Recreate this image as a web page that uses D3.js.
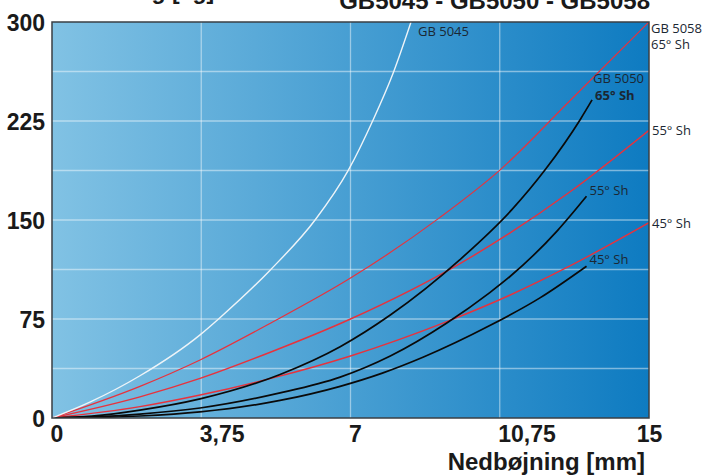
<!DOCTYPE html>
<html>
<head>
<meta charset="utf-8">
<script src="https://cdn.jsdelivr.net/npm/d3@7"></script>
<style>
  html, body { margin: 0; padding: 0; background: #fff; }
  svg { display: block; }
  .tick-lbl { font-family: "Liberation Sans", Arial, sans-serif; font-weight: bold; font-size: 23px; fill: #1a1a1a; }
  .ann { font-family: "Open Sans", "Noto Sans", sans-serif; font-size: 13px; fill: #1b2733; }
</style>
</head>
<body>
<svg id="chart" width="705" height="475"></svg>
<script>
// ---------- data ----------
const xTicks = [0, 3.75, 7.5, 11.25, 15];
const xTickLabels = ["0", "3,75", "7", "10,75", "15"];
const yTicks = [0, 75, 150, 225, 300];
const yGrid = [37.5, 75, 112.5, 150, 187.5, 225, 262.5];
const xTitle = "Nedbøjning [mm]";
const yTitle = "Belastning [kg]";
const chartTitle = "GB5045 - GB5050 - GB5058";

const gb5045X = [0, 0.95, 2.21, 3.72, 4.22, 5.48, 6.61, 7.45, 8.07, 8.58, 9.02];
const gb5045Y = [0, 12, 32, 63, 76, 112, 150, 188, 226, 262, 300];

const gb5058s65X = [0, 2.21, 3.72, 5.5, 7.5, 9.75, 11.26, 13.0, 15];
const gb5058s65Y = [0, 24, 44, 72, 106, 152, 188, 240, 300];
const gb5058s55X = [0, 2.21, 3.72, 5.5, 7.5, 10.25, 11.5, 13.0, 15];
const gb5058s55Y = [0, 16, 30, 50, 75, 117, 140, 171, 218];
const gb5058s45X = [0, 2.21, 3.72, 5.5, 7.5, 9.92, 11.5, 13.0, 15];
const gb5058s45Y = [0, 8.6, 17.4, 30, 47, 73, 93, 115, 148];

const gb5050s65X = [0, 1.0, 2.21, 3.72, 5.73, 7.24, 8.5, 10.25, 11.56, 12.39, 13.27, 13.57];
const gb5050s65Y = [0, 1.5, 6, 14.5, 33, 54, 78, 120, 158, 188, 226, 241];
const gb5050s55X = [0, 1.0, 2.21, 3.72, 5.73, 7.24, 8.5, 9.92, 11.0, 11.5, 12.7, 13.43];
const gb5050s55Y = [0, 0.8, 3, 7.6, 19, 31, 47, 72, 95, 107, 142, 168];
const gb5050s45X = [0, 1.0, 2.21, 3.72, 5.73, 7.24, 8.3, 9.32, 11.0, 12.26, 13.43];
const gb5050s45Y = [0, 0.3, 1.5, 4.6, 13.3, 24, 34, 46, 70, 91, 115];

// ---------- layout ----------
const W = 705, H = 475;
const m = { left: 52, right: 56, top: 22, bottom: 57 };
const iw = W - m.left - m.right, ih = H - m.top - m.bottom;

const svg = d3.select("#chart");
const x = d3.scaleLinear().domain([0, 15]).range([m.left, m.left + iw]);
const y = d3.scaleLinear().domain([0, 300]).range([m.top + ih, m.top]);

const defs = svg.append("defs");
const grad = defs.append("linearGradient").attr("id", "bg").attr("x1", 0).attr("x2", 1).attr("y1", 0).attr("y2", 0);
grad.append("stop").attr("offset", 0).attr("stop-color", "#81c2e4");
grad.append("stop").attr("offset", 1).attr("stop-color", "#0e7bc1");
defs.append("clipPath").attr("id", "clip").append("rect")
  .attr("x", m.left).attr("y", m.top).attr("width", iw).attr("height", ih);

svg.append("rect").attr("x", m.left).attr("y", m.top).attr("width", iw).attr("height", ih)
  .attr("fill", "url(#bg)");

// grid
svg.append("g").selectAll("line").data(yGrid).join("line")
  .attr("x1", m.left).attr("x2", m.left + iw)
  .attr("y1", d => y(d)).attr("y2", d => y(d))
  .attr("stroke", "rgba(255,255,255,0.45)").attr("stroke-width", 1.3);
svg.append("g").selectAll("line").data(xTicks.slice(1, -1)).join("line")
  .attr("y1", m.top).attr("y2", m.top + ih)
  .attr("x1", d => x(d)).attr("x2", d => x(d))
  .attr("stroke", "rgba(255,255,255,0.45)").attr("stroke-width", 1.3);

// curves
const line = d3.line().x(d => x(d[0])).y(d => y(d[1])).curve(d3.curveMonotoneX);
const series = [
  { xs: gb5058s65X, ys: gb5058s65Y, color: "#e8323c", w: 1.2 },
  { xs: gb5058s55X, ys: gb5058s55Y, color: "#e8323c", w: 1.4 },
  { xs: gb5058s45X, ys: gb5058s45Y, color: "#e8323c", w: 1.4 },
  { xs: gb5050s65X, ys: gb5050s65Y, color: "#0a0a0a", w: 1.7 },
  { xs: gb5050s55X, ys: gb5050s55Y, color: "#0a0a0a", w: 1.7 },
  { xs: gb5050s45X, ys: gb5050s45Y, color: "#0a0a0a", w: 1.7 },
  { xs: gb5045X, ys: gb5045Y, color: "#eef4f8", w: 1.4 }
];
const gCurves = svg.append("g").attr("clip-path", "url(#clip)");
series.forEach(s => {
  gCurves.append("path").datum(s.xs.map((v, i) => [v, s.ys[i]]))
    .attr("d", line).attr("fill", "none")
    .attr("stroke", s.color).attr("stroke-width", s.w);
});

// frame
svg.append("rect").attr("x", m.left).attr("y", m.top).attr("width", iw).attr("height", ih)
  .attr("fill", "none").attr("stroke", "#3a3f44").attr("stroke-width", 1.5);

// axes (labels only)
const yAxis = d3.axisLeft(y).tickValues(yTicks).tickSize(0).tickPadding(7).tickFormat(d3.format("d"));
const gy = svg.append("g").attr("transform", `translate(${m.left},0)`).call(yAxis);
gy.select(".domain").remove();
gy.selectAll("text").attr("class", "tick-lbl").attr("dy", "0.36em").attr("fill", null);

const xAxis = d3.axisBottom(x).tickValues(xTicks).tickSize(0).tickPadding(8)
  .tickFormat((d, i) => xTickLabels[i]);
const gx = svg.append("g").attr("transform", `translate(0,${m.top + ih})`).call(xAxis);
gx.select(".domain").remove();
const last = xTicks.length - 1;
gx.selectAll("text").attr("class", "tick-lbl").attr("fill", null)
  .attr("text-anchor", (d, i) => i === last ? "middle" : "start")
  .attr("x", (d, i) => i === last ? 0 : -2);

// titles
svg.append("text").attr("class", "tick-lbl").attr("x", m.left + iw - 4).attr("y", 470)
  .attr("text-anchor", "end").style("font-size", "24px").text(xTitle);
svg.append("text").attr("class", "tick-lbl").attr("x", 48).attr("y", -1).text(yTitle);
svg.append("text").attr("class", "tick-lbl").attr("x", m.left + iw + 1).attr("y", 9)
  .attr("text-anchor", "end").style("font-size", "24px").text(chartTitle);

// annotations anchored to curve ends
function endPt(xs, ys) { return [x(xs[xs.length - 1]), y(ys[ys.length - 1])]; }
function ann(pt, dx, dy, txt, bold) {
  svg.append("text").attr("class", "ann").attr("x", pt[0] + dx).attr("y", pt[1] + dy)
    .attr("font-weight", bold ? "bold" : null).text(txt);
}
const p45 = endPt(gb5045X, gb5045Y);
ann(p45, 7, 14, "GB 5045");
const r65 = endPt(gb5058s65X, gb5058s65Y);
ann(r65, 2, 11, "GB 5058");
ann(r65, 2, 27, "65° Sh");
const r55 = endPt(gb5058s55X, gb5058s55Y);
ann(r55, 3, 5, "55° Sh");
const r45 = endPt(gb5058s45X, gb5058s45Y);
ann(r45, 3, 5, "45° Sh");
const b65 = endPt(gb5050s65X, gb5050s65Y);
ann(b65, 1, -17, "GB 5050");
ann(b65, 3, 0, "65° Sh", true);
const b55 = endPt(gb5050s55X, gb5050s55Y);
ann(b55, 3, -1, "55° Sh");
const b45 = endPt(gb5050s45X, gb5050s45Y);
ann(b45, 3, -2, "45° Sh");
</script>
</body>
</html>
